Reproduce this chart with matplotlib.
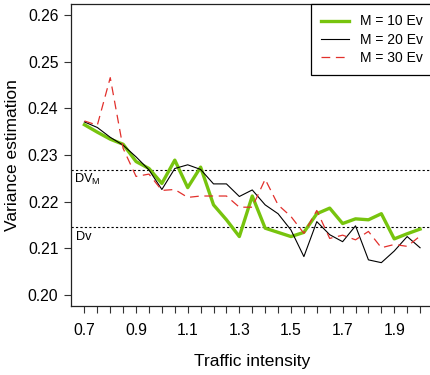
import numpy as np
import matplotlib
matplotlib.use('Agg')
import matplotlib.pyplot as plt

plt.rcParams['font.family'] = ['Liberation Sans', 'DejaVu Sans']

# traffic intensity values (0.70 .. 2.00 step 0.05)
traffic = [0.70, 0.75, 0.80, 0.85, 0.90, 0.95, 1.00, 1.05, 1.10, 1.15,
           1.20, 1.25, 1.30, 1.35, 1.40, 1.45, 1.50, 1.55, 1.60, 1.65,
           1.70, 1.75, 1.80, 1.85, 1.90, 1.95, 2.00]

var_m10 = [0.2365, 0.2349, 0.2334, 0.2323, 0.2286, 0.2271, 0.2239, 0.2289, 0.2230, 0.2274,
           0.2193, 0.2161, 0.2125, 0.2212, 0.2143, 0.2134, 0.2125, 0.2134, 0.2174, 0.2186,
           0.2153, 0.2163, 0.2161, 0.2174, 0.2120, 0.2131, 0.2141]
var_m20 = [0.2371, 0.2359, 0.2338, 0.2321, 0.2296, 0.2268, 0.2226, 0.2271, 0.2279, 0.2269,
           0.2238, 0.2238, 0.2211, 0.2225, 0.2193, 0.2174, 0.2139, 0.2082, 0.2157, 0.2129,
           0.2114, 0.2148, 0.2075, 0.2069, 0.2094, 0.2125, 0.2101]
var_m30 = [0.2373, 0.2364, 0.2466, 0.2314, 0.2254, 0.2259, 0.2224, 0.2226, 0.2209, 0.2212,
           0.2212, 0.2212, 0.2188, 0.2188, 0.2248, 0.2193, 0.2168, 0.2132, 0.2181, 0.2121,
           0.2128, 0.2118, 0.2136, 0.2101, 0.2108, 0.2104, 0.2126]

dv_m = 0.2267
dv = 0.2145

xticks = traffic
xlabels = ['0.7', '', '', '', '0.9', '', '', '', '1.1', '', '', '', '1.3', '', '', '',
           '1.5', '', '', '', '1.7', '', '', '', '1.9', '', '']
yticks = [0.20, 0.21, 0.22, 0.23, 0.24, 0.25, 0.26]

fig = plt.figure(figsize=(4.3, 3.75), dpi=100)
ax = fig.add_axes([71 / 430, 69 / 375, 362.5 / 430, 302 / 375])

ax.plot(traffic, var_m10, color='#77c40e', lw=2.4, label='M = 10 Ev', zorder=3)
ax.plot(traffic, var_m20, color='black', lw=0.8, label='M = 20 Ev', zorder=4)
ax.plot(traffic, var_m30, color='#e2302c', lw=0.9, linestyle=(0, (7, 4.5)),
        label='M = 30 Ev', zorder=5)

ax.axhline(dv_m, color='black', lw=0.8, linestyle=(0, (2, 2)), zorder=2)
ax.axhline(dv, color='black', lw=0.8, linestyle=(0, (2, 2)), zorder=2)
ax.text(0.6595, dv_m - 0.0004, r'DV$\mathregular{_M}$', fontsize=9.2, va='top', ha='left')
ax.text(0.669, dv - 0.0007, 'Dv', fontsize=9.2, va='top', ha='left')

ax.set_xlim(0.648, 2.052)
ax.set_ylim(0.1976, 0.2624)
ax.set_xticks(xticks)
ax.set_xticklabels(xlabels)
ax.set_yticks(yticks)
ax.set_yticklabels(['%.2f' % v for v in yticks])
ax.tick_params(axis='both', direction='out', length=5, width=0.8, labelsize=11.3,
               color='#333333')
ax.tick_params(axis='x', pad=7)
ax.tick_params(axis='y', pad=4)
for s in ax.spines.values():
    s.set_linewidth(0.9)
    s.set_color('#222222')

ax.set_xlabel('Traffic intensity', fontsize=12.5, labelpad=12)
ax.set_ylabel('Variance estimation', fontsize=12.5, labelpad=6)

leg = ax.legend(loc='upper right', bbox_to_anchor=(1, 1), borderaxespad=0,
                fancybox=False, framealpha=1, edgecolor='black', fontsize=10,
                handlelength=2.0, handletextpad=0.8, labelspacing=0.3,
                borderpad=0.75)
leg.get_frame().set_linewidth(0.9)

fig.savefig('out.png', dpi=100)
